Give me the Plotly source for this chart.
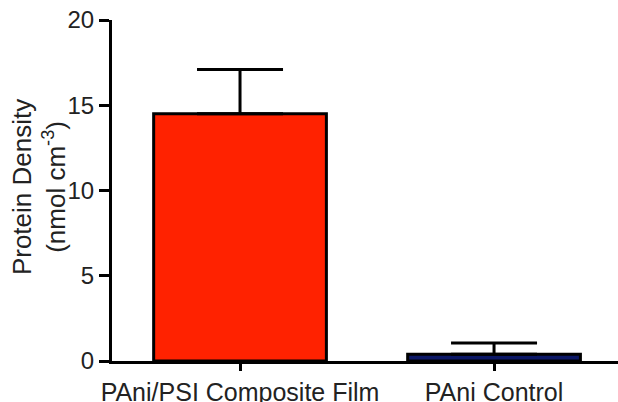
import plotly.graph_objects as go

categories = ["PAni/PSI Composite Film", "PAni Control"]
values = [14.5, 0.4]
errors_up = [2.6, 0.65]
colors = ["#ff2200", "#0b1766"]
y_ticks = [0, 5, 10, 15, 20]

fig = go.Figure()
fig.add_trace(go.Bar(
    x=categories,
    y=values,
    width=0.68,
    marker=dict(color=colors, line=dict(color="black", width=3)),
    error_y=dict(type="data", symmetric=False, array=errors_up,
                 arrayminus=[0, 0], color="black", thickness=3, width=43),
))

fam = "Liberation Sans, Arial, sans-serif"
font = dict(family=fam, size=24, color="#222")
xfont = dict(family=fam, size=25, color="#222")
tfont = dict(family=fam, size=26, color="#222")

fig.update_layout(
    width=618, height=402,
    margin=dict(l=112, r=0, t=20, b=41),
    paper_bgcolor="white", plot_bgcolor="white",
    showlegend=False,
    font=font,
    xaxis=dict(
        range=[-0.504, 1.488], showline=True, linecolor="black", linewidth=3,
        ticks="outside", ticklen=7, tickwidth=3, tickcolor="black",
        showgrid=False, zeroline=False, tickfont=xfont,
        ticklabelstandoff=0, automargin=False,
    ),
    yaxis=dict(
        range=[0, 20], tickvals=y_ticks, showline=True, linecolor="black",
        linewidth=3, ticks="outside", ticklen=10, tickwidth=3,
        tickcolor="black", showgrid=False, zeroline=False, tickfont=font,
        automargin=False,
    ),
    annotations=[dict(
        text="Protein Density<br>(nmol cm<sup>-3</sup>)",
        xref="paper", yref="paper", x=(39 - 112) / 506, y=0.51,
        xanchor="center", yanchor="middle", textangle=-90,
        showarrow=False, font=tfont,
    )],
)

fig.write_html("out.html")
